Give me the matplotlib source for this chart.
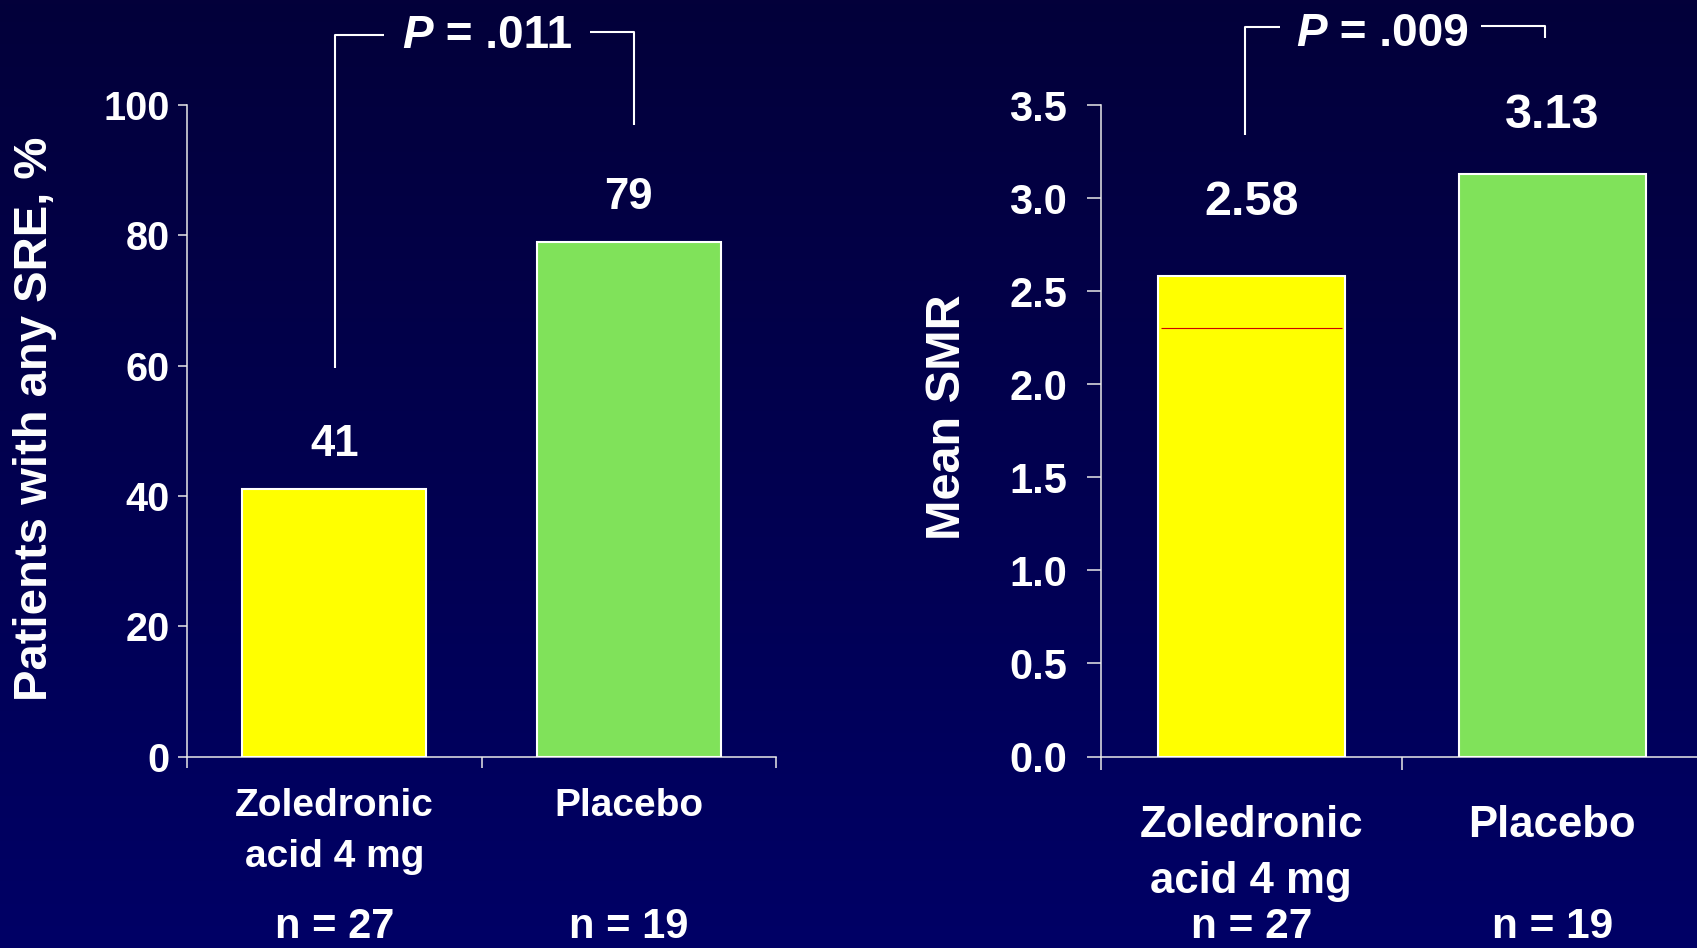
import numpy as np
import matplotlib
matplotlib.use("Agg")
import matplotlib.pyplot as plt
from matplotlib.colors import LinearSegmentedColormap

plt.rcParams['font.family'] = ['Liberation Sans', 'DejaVu Sans']
plt.rcParams['font.weight'] = 'bold'

# data
groups = ["Zoledronic\nacid 4 mg", "Placebo"]
group_n = ["n = 27", "n = 19"]
sre_pct = [41, 79]
mean_smr = [2.58, 3.13]
p_sre = ".011"
p_smr = ".009"

bar_colors = ["#FFFF00", "#80E25A"]
fg = "white"

fig = plt.figure(figsize=(16.97, 9.48), dpi=100)

# dark blue gradient backdrop
bg = fig.add_axes([0, 0, 1, 1], zorder=-10)
cmap = LinearSegmentedColormap.from_list("bg", ["#03003A", "#000066"])
bg.imshow(np.linspace(0, 1, 256).reshape(-1, 1), aspect="auto", cmap=cmap,
          extent=[0, 1, 0, 1], origin="upper")
bg.set_axis_off()

ax1 = fig.add_axes([0.1102, 0.2020, 0.3471, 0.6872])
ax2 = fig.add_axes([0.6486, 0.2020, 0.3548, 0.6872])

x = np.arange(len(groups))


def style_axes(ax, ymax, yticks, fmt, tick_fs, ylen, ypad, xlen):
    ax.set_facecolor("none")
    ax.set_xlim(-0.5, 1.5)
    ax.set_ylim(0, ymax)
    for s in ["top", "right"]:
        ax.spines[s].set_visible(False)
    for s in ["left", "bottom"]:
        ax.spines[s].set_color("#E8E8E8")
        ax.spines[s].set_linewidth(1.1)
    ax.set_yticks(yticks)
    ax.set_yticklabels([fmt.format(v) for v in yticks])
    ax.tick_params(axis="y", colors="#E8E8E8", labelcolor=fg, labelsize=tick_fs,
                   length=ylen, width=1.1, pad=ypad, direction="out")
    ax.set_xticks([])
    ax.set_xticks([-0.5, 0.5, 1.5], minor=True)
    ax.tick_params(axis="x", which="minor", colors="#E8E8E8", length=xlen,
                   width=1.1, direction="out")


def category_labels(ax, ys, n_y, fs, n_fs):
    tr = ax.get_xaxis_transform()
    for i, g in enumerate(groups):
        for line, yy in zip(g.split("\n"), ys):
            ax.text(x[i], yy, line, transform=tr, ha="center", va="baseline",
                    color=fg, fontsize=fs, clip_on=False)
        ax.text(x[i], n_y, group_n[i], transform=tr, ha="center",
                va="baseline", color=fg, fontsize=n_fs, clip_on=False)


def p_bracket(ax, left, right, tx, ty, label, fs):
    ax.plot(*left, color=fg, lw=1.5, clip_on=False, solid_capstyle="butt")
    ax.plot(*right, color=fg, lw=1.5, clip_on=False, solid_capstyle="butt")
    t = ax.text(tx, ty, "P", ha="left", va="baseline", color=fg, fontsize=fs,
                style="italic")
    ax.annotate(" = " + label, xy=(1, 0), xycoords=t, ha="left", va="bottom",
                color=fg, fontsize=fs)


# left panel: patients with any SRE
style_axes(ax1, 100, [0, 20, 40, 60, 80, 100], "{:d}", 28.5, 6.5, 6, 7.7)
ax1.bar(x, sre_pct, width=0.625, color=bar_colors, edgecolor="white",
        linewidth=1.5, zorder=3)
for i, v in enumerate(sre_pct):
    ax1.annotate(f"{v}", xy=(x[i], v), xytext=(0, 24), textcoords="offset points",
                 ha="center", va="baseline", color=fg, fontsize=31.5)
ax1.text(-0.258, 0.518, "Patients with any SRE, %", transform=ax1.transAxes,
         rotation=90, ha="center", va="center", color=fg, fontsize=34)
category_labels(ax1, [-0.0913, -0.1691], -0.2786, 28, 30)
p_bracket(ax1, ([0.004, 0.004, 0.169], [59.6, 110.7, 110.7]),
          ([0.868, 1.018, 1.018], [111.2, 111.2, 97]),
          0.232, 108.8, p_sre, 33)

# right panel: mean SMR
style_axes(ax2, 3.5, [0.0, 0.5, 1.0, 1.5, 2.0, 2.5, 3.0, 3.5], "{:.1f}", 30,
           10, 14, 9.4)
ax2.bar(x, mean_smr, width=0.62, color=bar_colors, edgecolor="white",
        linewidth=1.5, zorder=3)
ax2.hlines(2.30, x[0] - 0.30, x[0] + 0.30, color="#D00000", lw=0.8, zorder=4)
for i, (v, off) in enumerate(zip(mean_smr, [44, 33])):
    ax2.annotate(f"{v:.2f}", xy=(x[i], v), xytext=(0, off),
                 textcoords="offset points", ha="center", va="baseline",
                 color=fg, fontsize=35)
ax2.text(-0.255, 0.5216, "Mean SMR", transform=ax2.transAxes, rotation=90,
         ha="center", va="center", color=fg, fontsize=35)
category_labels(ax2, [-0.1235, -0.2094], -0.2786, 31.5, 30.5)
p_bracket(ax2, ([-0.022, -0.022, 0.096], [3.337, 3.919, 3.919]),
          ([0.763, 0.976, 0.976], [3.922, 3.922, 3.86]),
          0.149, 3.817, p_smr, 33)

fig.savefig("out.png", dpi=100, facecolor="#000050")
